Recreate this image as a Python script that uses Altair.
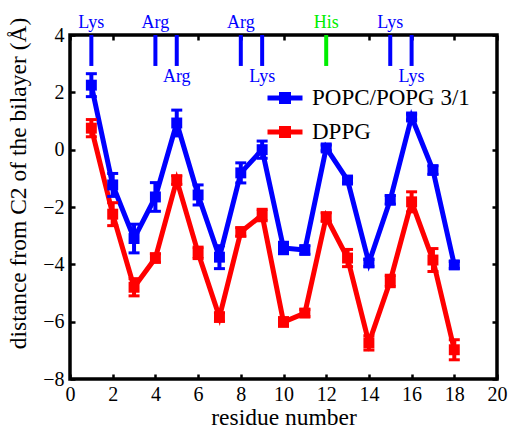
import altair as alt
import pandas as pd

# residue positions along the peptide
residues = list(range(1, 19))

# depth of each residue relative to the C2 carbon of the bilayer (Å)
popc_popg = [2.25, -1.23, -3.1, -1.65, 0.93, -1.58, -3.75, -0.81, 0.0,
             -3.43, -3.5, 0.06, -1.06, -3.95, -1.75, 1.14, -0.71, -4.02]
popc_popg_err = [0.4, 0.4, 0.5, 0.5, 0.45, 0.35, 0.4, 0.35, 0.3,
                 0.2, 0.15, 0.1, 0.1, 0.12, 0.15, 0.1, 0.15, 0.12]
dppg = [0.75, -2.25, -4.8, -3.78, -1.06, -3.6, -5.84, -2.87, -2.28,
        -6.01, -5.7, -2.35, -3.78, -6.74, -4.58, -1.82, -3.85, -6.98]
dppg_err = [0.3, 0.4, 0.3, 0.15, 0.15, 0.2, 0.15, 0.15, 0.2,
            0.15, 0.12, 0.15, 0.3, 0.25, 0.2, 0.35, 0.4, 0.35]

series_names = ["POPC/POPG 3/1", "DPPG"]
series_colors = ["#0000ff", "#ff0000"]

# charged residues marked along the top of the plot
marked_pos = [1, 4, 5, 8, 9, 12, 15, 16]
marked_name = ["Lys", "Arg", "Arg", "Arg", "Lys", "His", "Lys", "Lys"]
marked_above = [True, True, False, True, False, True, True, False]
marked_color = ["#0000ff", "#0000ff", "#0000ff", "#0000ff", "#0000ff",
                "#00ee00", "#0000ff", "#0000ff"]

x_ticks = list(range(0, 21, 2))
y_ticks = list(range(-8, 5, 2))

rows = []
for name, vals, errs in [(series_names[0], popc_popg, popc_popg_err),
                         (series_names[1], dppg, dppg_err)]:
    for r, v, e in zip(residues, vals, errs):
        rows.append({"residue": r, "depth": v, "lo": v - e, "hi": v + e,
                     "series": name})
df = pd.DataFrame(rows)

marks_df = pd.DataFrame({
    "residue": marked_pos,
    "name": marked_name,
    "top": [4.0] * len(marked_pos),
    "bottom": [2.92] * len(marked_pos),
    "label_y": [4.24 if a else 2.36 for a in marked_above],
    "color": marked_color,
})

SERIF = "Liberation Serif, Times New Roman, Times, serif"
xs = alt.Scale(domain=[0, 20], nice=False, zero=False)
ys = alt.Scale(domain=[-8, 4], nice=False, zero=False)
color = alt.Color("series:N", scale=alt.Scale(domain=series_names, range=series_colors),
                  sort=series_names,
                  legend=alt.Legend(title=None, orient="none", legendX=195, legendY=43,
                                    symbolType="M-1,0H1M-0.2,-0.2H0.2V0.2H-0.2Z",
                                    symbolSize=1225, symbolStrokeWidth=5,
                                    labelFont=SERIF, labelFontSize=23, labelColor="black",
                                    labelOffset=7, rowPadding=0, padding=0,
                                    labelLimit=300))

tick_common = dict(domain=False, ticks=False, tickSize=0, grid=True,
                   gridColor="black", gridWidth=2.5, gridDash=[5, 2000], gridOpacity=1)

x_main = alt.Axis(orient="bottom", values=x_ticks, labelFont=SERIF, labelFontSize=20,
                  labelColor="black", labelPadding=5, labelFlush=False,
                  title="residue number", titleFont=SERIF, titleFontSize=23.5,
                  titleFontWeight="normal", titleColor="black",
                  titleBaseline="alphabetic", titleY=45, **tick_common)
y_main = alt.Axis(orient="left", values=y_ticks, format="d", labelFont=SERIF, labelFontSize=20,
                  labelColor="black", labelPadding=6,
                  title="distance from C2 of  the bilayer (Å)", titleFont=SERIF,
                  titleFontSize=23.5, titleFontWeight="normal", titleColor="black",
                  titleAngle=270, titleAlign="center", titleBaseline="middle",
                  titleX=-52, titleY=148, **tick_common)
x_top = alt.Axis(orient="top", values=x_ticks, labels=False, title=None, **tick_common)
y_right = alt.Axis(orient="right", values=y_ticks, labels=False, title=None, **tick_common)

lines = alt.Chart(df).mark_line(strokeWidth=5).encode(
    x=alt.X("residue:Q", scale=xs, axis=x_main),
    y=alt.Y("depth:Q", scale=ys, axis=y_main),
    color=color,
    detail="series:N",
)

bars = alt.Chart(df).mark_rule(strokeWidth=4).encode(
    x=alt.X("residue:Q", scale=xs, axis=x_top),
    y=alt.Y("lo:Q", scale=ys, axis=y_right),
    y2="hi:Q",
    color=alt.Color("series:N", scale=alt.Scale(domain=series_names, range=series_colors),
                    legend=None),
)

cap_color = alt.Color("series:N", scale=alt.Scale(domain=series_names, range=series_colors),
                      legend=None)
caps_lo = alt.Chart(df).mark_tick(orient="horizontal", size=11, thickness=3, opacity=1).encode(
    x=alt.X("residue:Q", scale=xs, axis=None),
    y=alt.Y("lo:Q", scale=ys, axis=None),
    color=cap_color,
)
caps_hi = alt.Chart(df).mark_tick(orient="horizontal", size=11, thickness=3, opacity=1).encode(
    x=alt.X("residue:Q", scale=xs, axis=None),
    y=alt.Y("hi:Q", scale=ys, axis=None),
    color=cap_color,
)

points = alt.Chart(df).mark_square(size=120, opacity=1, filled=True).encode(
    x=alt.X("residue:Q", scale=xs, axis=None),
    y=alt.Y("depth:Q", scale=ys, axis=None),
    color=cap_color,
)

flag_rules = alt.Chart(marks_df).mark_rule(strokeWidth=4).encode(
    x=alt.X("residue:Q", scale=xs, axis=None),
    y=alt.Y("top:Q", scale=ys, axis=None),
    y2="bottom:Q",
    color=alt.Color("color:N", scale=None),
)

flag_text = alt.Chart(marks_df).mark_text(font=SERIF, fontSize=18, baseline="alphabetic",
                                          align="center").encode(
    x=alt.X("residue:Q", scale=xs, axis=None),
    y=alt.Y("label_y:Q", scale=ys, axis=None),
    text="name:N",
    color=alt.Color("color:N", scale=None),
)

chart = alt.layer(
    lines, bars, caps_lo, caps_hi, points, flag_rules, flag_text
).resolve_axis(
    x="independent", y="independent"
).properties(
    width=427, height=344,
    autosize=alt.AutoSizeParams(type="none"),
    padding={"left": 70, "top": 35, "right": 21, "bottom": 52},
    background="white",
).configure_view(
    stroke="black", strokeWidth=3.5, fill="white"
)

chart.save("out.html", embed_options={"renderer": "svg", "actions": False})
